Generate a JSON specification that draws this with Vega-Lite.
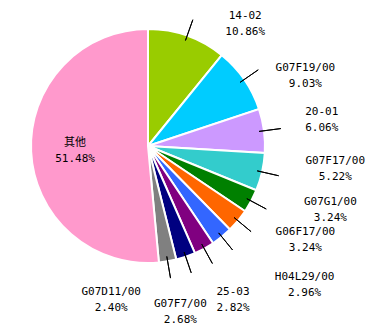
{
  "$schema": "https://vega.github.io/schema/vega-lite/v6.json",
  "width": 296,
  "height": 292,
  "autosize": {"type": "none"},
  "padding": {"left": 0, "top": 0, "right": 77, "bottom": 44},
  "background": "white",
  "config": {"view": {"stroke": null}},
  "data": {
    "values": [
      {"name": "14-02", "value": 10.86, "k": 1},
      {"name": "G07F19/00", "value": 9.03, "k": 2},
      {"name": "20-01", "value": 6.06, "k": 3},
      {"name": "G07F17/00", "value": 5.22, "k": 4},
      {"name": "G07G1/00", "value": 3.24, "k": 5},
      {"name": "G06F17/00", "value": 3.24, "k": 6},
      {"name": "H04L29/00", "value": 2.96, "k": 7},
      {"name": "25-03", "value": 2.82, "k": 8},
      {"name": "G07F7/00", "value": 2.68, "k": 9},
      {"name": "G07D11/00", "value": 2.40, "k": 10},
      {"name": "其他", "value": 51.48, "k": 11}
    ]
  },
  "transform": [
    {"stack": "value", "groupby": [], "sort": [{"field": "k", "order": "ascending"}], "as": ["v0", "v1"]},
    {"calculate": "(datum.v0 + datum.v1) / 2", "as": "vm"},
    {"calculate": "datum.name + '\\n' + format(datum.value, '.2f') + '%'", "as": "lab"}
  ],
  "layer": [
    {
      "mark": {"type": "arc", "radius": 117, "stroke": "white", "strokeWidth": 2},
      "encoding": {
        "theta": {"field": "v0", "type": "quantitative", "stack": null, "scale": {"domain": [0, 99.99]}},
        "theta2": {"field": "v1"},
        "color": {
          "field": "name", "type": "nominal", "legend": null,
          "scale": {
            "domain": ["14-02", "G07F19/00", "20-01", "G07F17/00", "G07G1/00", "G06F17/00", "H04L29/00", "25-03", "G07F7/00", "G07D11/00", "其他"],
            "range": ["#99CC00", "#00CCFF", "#CC99FF", "#33CCCC", "#008000", "#FF6600", "#3366FF", "#800080", "#000080", "#808080", "#FF99CC"]
          }
        }
      }
    },
    {
      "transform": [{"filter": "datum.name != '其他'"}],
      "mark": {"type": "arc", "radius": 134, "radius2": 112, "stroke": "black", "strokeWidth": 1, "fillOpacity": 0},
      "encoding": {
        "theta": {"field": "vm", "type": "quantitative", "stack": null},
        "theta2": {"field": "vm"}
      }
    },
    {
      "transform": [{"filter": "datum.name == '14-02'"}],
      "mark": {"type": "text", "radius": 150, "dx": 47, "dy": 11, "font": "DejaVu Sans Mono, Noto Sans CJK SC", "fontSize": 11, "lineBreak": "\n", "lineHeight": 16, "baseline": "middle", "align": "center", "color": "black"},
      "encoding": {"theta": {"field": "vm", "type": "quantitative", "stack": null}, "text": {"field": "lab"}}
    },
    {
      "transform": [{"filter": "datum.name == 'G07F19/00'"}],
      "mark": {"type": "text", "radius": 150, "dx": 34, "dy": 7, "font": "DejaVu Sans Mono, Noto Sans CJK SC", "fontSize": 11, "lineBreak": "\n", "lineHeight": 16, "baseline": "middle", "align": "center", "color": "black"},
      "encoding": {"theta": {"field": "vm", "type": "quantitative", "stack": null}, "text": {"field": "lab"}}
    },
    {
      "transform": [{"filter": "datum.name == '20-01'"}],
      "mark": {"type": "text", "radius": 150, "dx": 25, "dy": -14, "font": "DejaVu Sans Mono, Noto Sans CJK SC", "fontSize": 11, "lineBreak": "\n", "lineHeight": 16, "baseline": "middle", "align": "center", "color": "black"},
      "encoding": {"theta": {"field": "vm", "type": "quantitative", "stack": null}, "text": {"field": "lab"}}
    },
    {
      "transform": [{"filter": "datum.name == 'G07F17/00'"}],
      "mark": {"type": "text", "radius": 150, "dx": 41, "dy": -18, "font": "DejaVu Sans Mono, Noto Sans CJK SC", "fontSize": 11, "lineBreak": "\n", "lineHeight": 16, "baseline": "middle", "align": "center", "color": "black"},
      "encoding": {"theta": {"field": "vm", "type": "quantitative", "stack": null}, "text": {"field": "lab"}}
    },
    {
      "transform": [{"filter": "datum.name == 'G07G1/00'"}],
      "mark": {"type": "text", "radius": 150, "dx": 50, "dy": -15, "font": "DejaVu Sans Mono, Noto Sans CJK SC", "fontSize": 11, "lineBreak": "\n", "lineHeight": 16, "baseline": "middle", "align": "center", "color": "black"},
      "encoding": {"theta": {"field": "vm", "type": "quantitative", "stack": null}, "text": {"field": "lab"}}
    },
    {
      "transform": [{"filter": "datum.name == 'G06F17/00'"}],
      "mark": {"type": "text", "radius": 150, "dx": 42, "dy": -10, "font": "DejaVu Sans Mono, Noto Sans CJK SC", "fontSize": 11, "lineBreak": "\n", "lineHeight": 16, "baseline": "middle", "align": "center", "color": "black"},
      "encoding": {"theta": {"field": "vm", "type": "quantitative", "stack": null}, "text": {"field": "lab"}}
    },
    {
      "transform": [{"filter": "datum.name == 'H04L29/00'"}],
      "mark": {"type": "text", "radius": 150, "dx": 62, "dy": 15, "font": "DejaVu Sans Mono, Noto Sans CJK SC", "fontSize": 11, "lineBreak": "\n", "lineHeight": 16, "baseline": "middle", "align": "center", "color": "black"},
      "encoding": {"theta": {"field": "vm", "type": "quantitative", "stack": null}, "text": {"field": "lab"}}
    },
    {
      "transform": [{"filter": "datum.name == '25-03'"}],
      "mark": {"type": "text", "radius": 150, "dx": 13, "dy": 14, "font": "DejaVu Sans Mono, Noto Sans CJK SC", "fontSize": 11, "lineBreak": "\n", "lineHeight": 16, "baseline": "middle", "align": "center", "color": "black"},
      "encoding": {"theta": {"field": "vm", "type": "quantitative", "stack": null}, "text": {"field": "lab"}}
    },
    {
      "transform": [{"filter": "datum.name == 'G07F7/00'"}],
      "mark": {"type": "text", "radius": 150, "dx": -16, "dy": 16, "font": "DejaVu Sans Mono, Noto Sans CJK SC", "fontSize": 11, "lineBreak": "\n", "lineHeight": 16, "baseline": "middle", "align": "center", "color": "black"},
      "encoding": {"theta": {"field": "vm", "type": "quantitative", "stack": null}, "text": {"field": "lab"}}
    },
    {
      "transform": [{"filter": "datum.name == 'G07D11/00'"}],
      "mark": {"type": "text", "radius": 150, "dx": -62, "dy": -2, "font": "DejaVu Sans Mono, Noto Sans CJK SC", "fontSize": 11, "lineBreak": "\n", "lineHeight": 16, "baseline": "middle", "align": "center", "color": "black"},
      "encoding": {"theta": {"field": "vm", "type": "quantitative", "stack": null}, "text": {"field": "lab"}}
    },
    {
      "transform": [{"filter": "datum.name == '其他'"}],
      "mark": {"type": "text", "radius": 80, "dx": 7, "dy": -7, "font": "DejaVu Sans Mono, Noto Sans CJK SC", "fontSize": 11, "lineBreak": "\n", "lineHeight": 16, "baseline": "middle", "align": "center", "color": "black"},
      "encoding": {"theta": {"field": "vm", "type": "quantitative", "stack": null}, "text": {"field": "lab"}}
    }
  ]
}
